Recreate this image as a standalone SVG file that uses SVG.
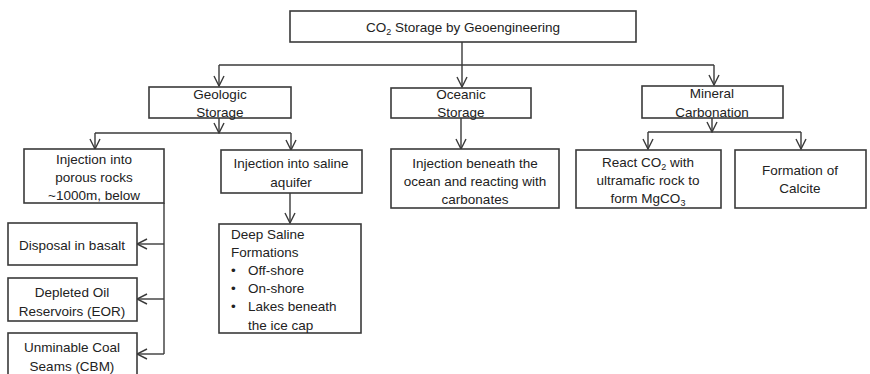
<svg xmlns="http://www.w3.org/2000/svg" width="870" height="374" viewBox="0 0 870 374">
<style>
  .box { fill: #ffffff; stroke: #3a3a3a; stroke-width: 1.6; }
  .t { font-family: "Liberation Sans", Arial, sans-serif; font-size: 13.5px; fill: #222222; text-anchor: middle; }
  .tl { font-family: "Liberation Sans", Arial, sans-serif; font-size: 13.5px; fill: #222222; text-anchor: start; }
  .c { fill: none; stroke: #3a3a3a; stroke-width: 1.4; }
  .sub { font-size: 9px; }
</style>
<defs>
  <marker id="arr" viewBox="0 0 12 12" refX="11" refY="6" markerWidth="12" markerHeight="12" markerUnits="userSpaceOnUse" orient="auto">
    <path d="M1,1 L11,6 L1,11" fill="none" stroke="#3a3a3a" stroke-width="1.4"/>
  </marker>
</defs>
<rect width="870" height="374" fill="#ffffff"/>

<g id="connectors">
  <path class="c" d="M462,42 V87" marker-end="url(#arr)"/>
  <path class="c" d="M219,65 H714"/>
  <path class="c" d="M219,65 V86" marker-end="url(#arr)"/>
  <path class="c" d="M714,65 V85" marker-end="url(#arr)"/>
  <path class="c" d="M219,118 V133" marker-end="url(#arr)"/>
  <path class="c" d="M95,133 H291"/>
  <path class="c" d="M95,133 V149" marker-end="url(#arr)"/>
  <path class="c" d="M291,133 V150" marker-end="url(#arr)"/>
  <path class="c" d="M461,118 V149" marker-end="url(#arr)"/>
  <path class="c" d="M712,118 V132" marker-end="url(#arr)"/>
  <path class="c" d="M648,132 H801"/>
  <path class="c" d="M648,132 V149" marker-end="url(#arr)"/>
  <path class="c" d="M801,132 V149" marker-end="url(#arr)"/>
  <path class="c" d="M290,193 V223" marker-end="url(#arr)"/>
  <path class="c" d="M164,203 V354"/>
  <path class="c" d="M164,244 H137" marker-end="url(#arr)"/>
  <path class="c" d="M164,299 H137" marker-end="url(#arr)"/>
  <path class="c" d="M164,354 H137" marker-end="url(#arr)"/>
</g>

<g id="root">
  <rect class="box" x="290" y="11" width="346" height="31"/>
  <text class="t" x="463" y="32">CO<tspan class="sub" dy="3">2</tspan><tspan dy="-3"> Storage by Geoengineering</tspan></text>
</g>

<g id="geologic">
  <rect class="box" x="149" y="87" width="142" height="31"/>
  <text class="t" x="220" y="99">Geologic</text>
  <text class="t" x="220" y="117">Storage</text>
</g>

<g id="oceanic">
  <rect class="box" x="391" y="88" width="140" height="30"/>
  <text class="t" x="461" y="99">Oceanic</text>
  <text class="t" x="461" y="117">Storage</text>
</g>

<g id="mineral">
  <rect class="box" x="642" y="86" width="141" height="32"/>
  <text class="t" x="712" y="98">Mineral</text>
  <text class="t" x="712" y="117">Carbonation</text>
</g>

<g id="porous">
  <rect class="box" x="24" y="149" width="140" height="54"/>
  <text class="t" x="94" y="164">Injection into</text>
  <text class="t" x="94" y="182">porous rocks</text>
  <text class="t" x="94" y="200">~1000m, below</text>
</g>

<g id="saline">
  <rect class="box" x="221" y="150" width="141" height="43"/>
  <text class="t" x="291" y="168">Injection into saline</text>
  <text class="t" x="291" y="187">aquifer</text>
</g>

<g id="beneath">
  <rect class="box" x="391" y="149" width="168" height="59"/>
  <text class="t" x="475" y="168">Injection beneath the</text>
  <text class="t" x="475" y="186">ocean and reacting with</text>
  <text class="t" x="475" y="204">carbonates</text>
</g>

<g id="react">
  <rect class="box" x="576" y="150" width="145" height="58"/>
  <text class="t" x="648" y="167">React CO<tspan class="sub" dy="3">2</tspan><tspan dy="-3"> with</tspan></text>
  <text class="t" x="648" y="185">ultramafic rock to</text>
  <text class="t" x="648" y="203">form MgCO<tspan class="sub" dy="3">3</tspan></text>
</g>

<g id="calcite">
  <rect class="box" x="735" y="150" width="131" height="58"/>
  <text class="t" x="800" y="175">Formation of</text>
  <text class="t" x="800" y="193">Calcite</text>
</g>

<g id="basalt">
  <rect class="box" x="8" y="223" width="129" height="42"/>
  <text class="t" x="72" y="250">Disposal in basalt</text>
</g>

<g id="eor">
  <rect class="box" x="8" y="278" width="129" height="43"/>
  <text class="t" x="72" y="297">Depleted Oil</text>
  <text class="t" x="72" y="316">Reservoirs (EOR)</text>
</g>

<g id="cbm">
  <rect class="box" x="8" y="333" width="129" height="46"/>
  <text class="t" x="72" y="352">Unminable Coal</text>
  <text class="t" x="72" y="371">Seams (CBM)</text>
</g>

<g id="deepsaline">
  <rect class="box" x="219" y="224" width="142" height="109"/>
  <text class="tl" x="231" y="239">Deep Saline</text>
  <text class="tl" x="231" y="257">Formations</text>
  <text class="tl" x="231" y="275">•</text>
  <text class="tl" x="248" y="275">Off-shore</text>
  <text class="tl" x="231" y="293">•</text>
  <text class="tl" x="248" y="293">On-shore</text>
  <text class="tl" x="231" y="311">•</text>
  <text class="tl" x="248" y="311">Lakes beneath</text>
  <text class="tl" x="248" y="330">the ice cap</text>
</g>
</svg>
